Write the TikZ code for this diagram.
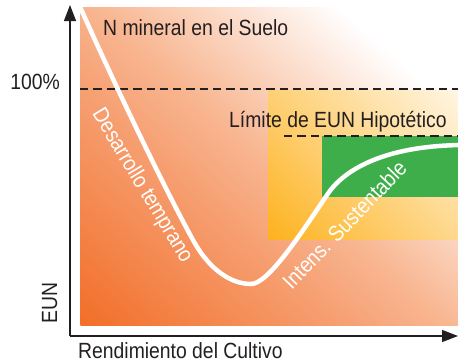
\documentclass[tikz,border=0pt]{standalone}
\usepackage{fontspec}
\setmainfont{Liberation Sans}[FakeStretch=0.88]
\usetikzlibrary{arrows.meta}
\definecolor{txtc}{RGB}{35,31,32}
\definecolor{orA}{RGB}{242,110,40}
\definecolor{orM}{RGB}{246,158,112}
\definecolor{orB}{RGB}{248,182,145}
\definecolor{yeA}{RGB}{253,178,30}
\definecolor{yeB}{RGB}{253,212,140}
\definecolor{yeC}{RGB}{255,246,228}
\definecolor{grn}{RGB}{61,174,73}
\pgfdeclarehorizontalshading{orgrad}{100bp}{color(0bp)=(orA); color(25bp)=(orA); color(46bp)=(orM); color(55bp)=(orB); color(75bp)=(white); color(100bp)=(white)}
\begin{document}
\begin{tikzpicture}[x=1pt,y=-1pt,
  lbl/.style={font=\fontsize{22}{26}\selectfont, text=txtc, inner sep=0pt},
  wlbl/.style={lbl, text=white},
  dashline/.style={draw=txtc, line width=2.4pt, dash pattern=on 8.3pt off 5pt},
  axisline/.style={draw=txtc, line width=1.2pt},
  axisarrow/.style={axisline, -{Triangle[length=16pt,width=12pt]}},
  curveline/.style={draw=white, line width=4.5pt}]
\useasboundingbox (0,0) rectangle (458,364);
% orange background gradient
\begin{scope}
  \clip (80,7) rectangle (458,325);
  \begin{scope}[transform canvas={shift={(80,325)}, rotate=48}]
    \shade[shading=orgrad] (0,-600) rectangle (410,600);
  \end{scope}
\end{scope}
% yellow gradient box
\begin{scope}
  \clip (268,90) rectangle (458,239);
  \begin{scope}[transform canvas={shift={(268,239)}, rotate=45}]
    \shade[left color=yeA, middle color=yeB, right color=yeC] (0,-400) rectangle (240,400);
  \end{scope}
\end{scope}
% green box
\fill[grn] (322,136) rectangle (458,197);
% dashed lines
\coordinate (d1a) at (80,89);
\coordinate (d1b) at (458,89);
\coordinate (d2a) at (284,136);
\coordinate (d2b) at (458,136);
\draw[dashline] (d1a) -- (d1b);
\draw[dashline] (d2a) -- (d2b);
% curve
\begin{scope}
  \clip (80,7) rectangle (458,325);
  \draw[curveline] (77,0) .. controls (108,70) and (160,180) .. (193,240)
    .. controls (210,271) and (232,284) .. (251,284)
    .. controls (268,284) and (300,235) .. (327,195)
    .. controls (342,172) and (380,146) .. (462,145);
\end{scope}
% axes
\coordinate (O) at (70,336);
\coordinate (Ytip) at (70,5);
\coordinate (Xtip) at (458,336);
\draw[axisarrow] (O) -- (Ytip);
\draw[axisarrow] (O) -- (Xtip);
% labels
\node[lbl, anchor=base west] (nmin) at (103,35) {N mineral en el Suelo};
\node[lbl, anchor=base east] (pct) at (60,89) {100\%};
\node[lbl, anchor=base west] (lim) at (229,127) {Límite de EUN Hipotético};
\node[lbl, anchor=base west] (xl) at (78,358) {Rendimiento del Cultivo};
\node[lbl, anchor=base, rotate=90] (yl) at (57,303) {EUN};
\node[wlbl, anchor=base, rotate=-59] (des) at (137,189) {Desarrollo temprano};
\node[wlbl, anchor=base, rotate=46] (int) at (350,230) {Intens. Sustentable};
\end{tikzpicture}
\end{document}
